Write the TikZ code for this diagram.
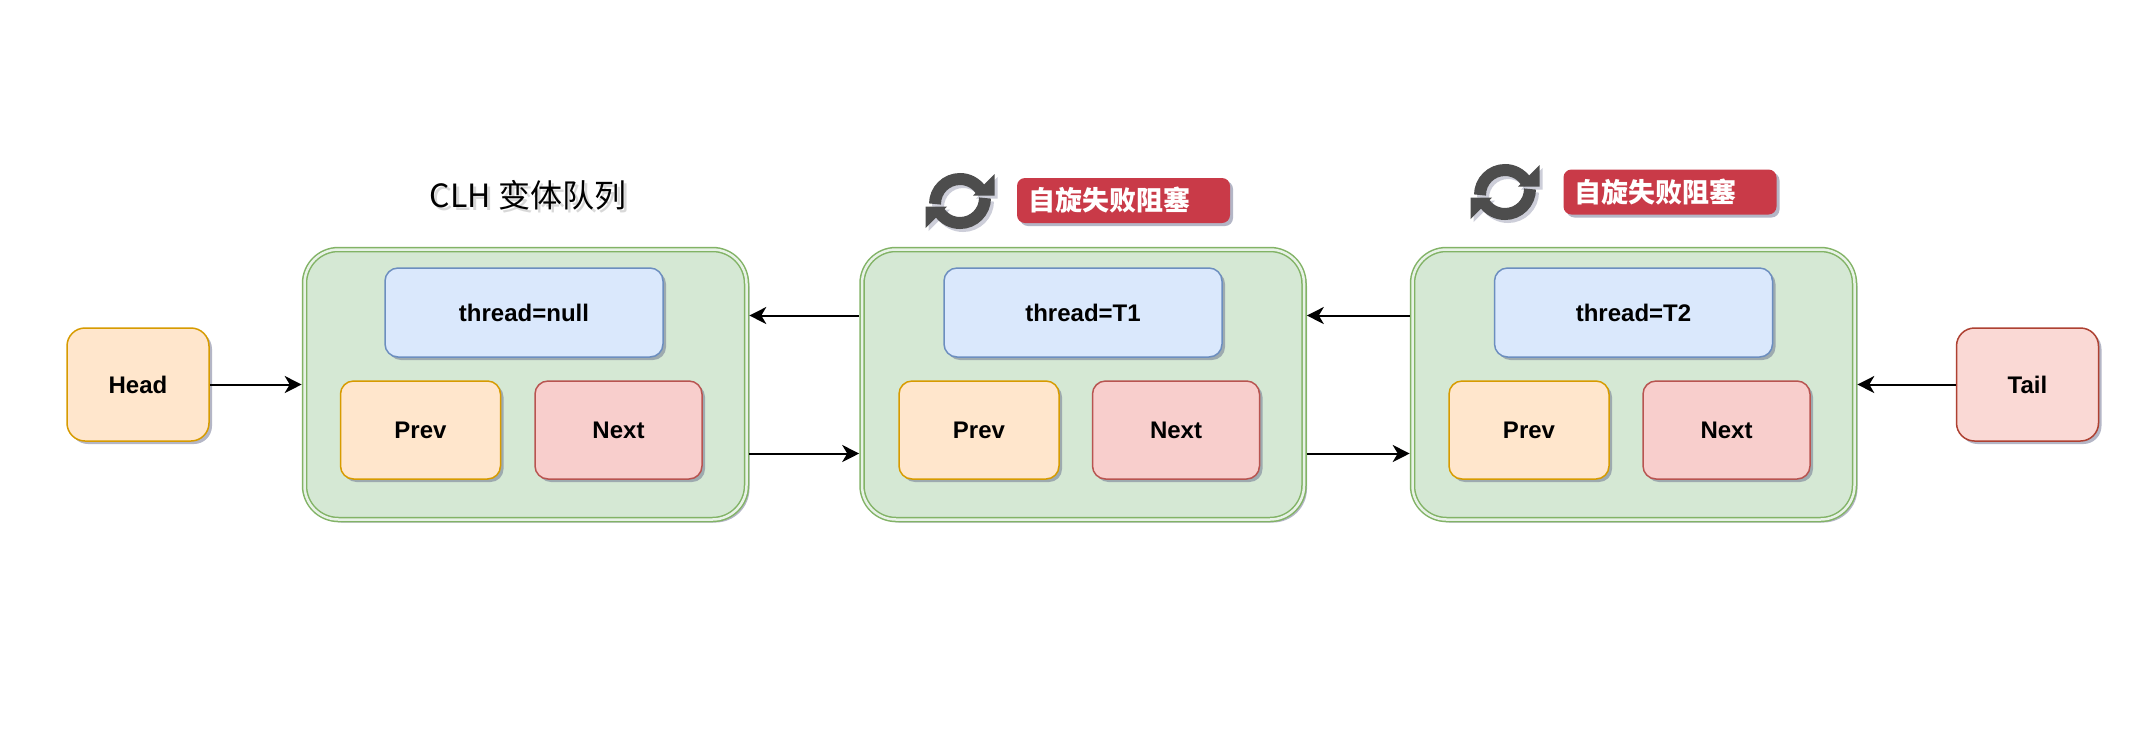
\documentclass[tikz,border=0pt]{standalone}
\usepackage{fontspec}
\setmainfont{Liberation Sans}
\newfontfamily\cjk{Noto Sans CJK SC}
\usetikzlibrary{shadows,arrows.meta}
\definecolor{grpfill}{HTML}{D5E8D4}
\definecolor{grpline}{HTML}{82B366}
\definecolor{blufill}{HTML}{DAE8FC}
\definecolor{bluline}{HTML}{6C8EBF}
\definecolor{orfill}{HTML}{FFE6CC}
\definecolor{orline}{HTML}{D79B00}
\definecolor{rdfill}{HTML}{F8CECC}
\definecolor{rdline}{HTML}{B85450}
\definecolor{tlfill}{HTML}{FAD9D5}
\definecolor{tlline}{HTML}{AE4132}
\definecolor{lblred}{RGB}{201,58,72}
\definecolor{icongray}{RGB}{77,77,77}
\definecolor{shadowc}{RGB}{90,95,130}
\tikzset{
  shad/.style={drop shadow={shadow xshift=1.5pt,shadow yshift=-1.5pt,fill=shadowc,opacity=0.45}},
  grp/.style={shad, rounded corners=17pt, draw=grpline, line width=0.75pt,
    double=grpfill!55!white, double distance=1.25pt, fill=grpfill,
    minimum width=221pt, minimum height=135pt, inner sep=0pt, outer sep=1.4pt},
  txt/.style={font=\bfseries\fontsize{12}{14}\selectfont, text=black},
  inbox/.style={shad, txt, rounded corners=6.5pt, line width=0.75pt, inner sep=0pt},
  thr/.style={inbox, draw=bluline, fill=blufill, minimum width=139pt, minimum height=44.5pt},
  prv/.style={inbox, draw=orline, fill=orfill, minimum width=80pt, minimum height=49pt},
  nxt/.style={inbox, draw=rdline, fill=rdfill, minimum width=83.5pt, minimum height=49pt},
  endbox/.style={shad, txt, rounded corners=9pt, line width=0.75pt, inner sep=0pt,
    minimum width=71pt, minimum height=56.5pt},
  redlabel/.style={shad, fill=lblred, rounded corners=4pt, inner xsep=5.5pt, inner ysep=0pt,
    text width=95.5pt, align=left, minimum height=22.5pt, text=white,
    font=\cjk\bfseries\fontsize{13.5}{15}\selectfont},
  arr/.style={line width=1pt, -{Stealth[length=8.5pt,width=8.5pt,inset=2.5pt]}},
}
\newcommand\RefreshHalf{%
  \draw[line width=6pt] (-25,-3) arc[start angle=180,end angle=35,radius=25];
  \fill (34.5,27) -- (34.5,5.5) -- (13,5.5) -- cycle;}
\newcommand\RefreshIcon{%
  \RefreshHalf
  \begin{scope}[rotate=180]\RefreshHalf\end{scope}}
\begin{document}
\begin{tikzpicture}[x=0.5pt,y=-0.5pt]
\useasboundingbox[fill=white] (0,0) rectangle (2148,730);

% title
\node[font=\cjk\fontsize{16}{18}\selectfont, text=black!30, opacity=0.5] at (531,198) {CLH 变体队列};
\node[font=\cjk\fontsize{16}{18}\selectfont] (title) at (528,195) {CLH 变体队列};

% end boxes
\node[endbox, draw=orline, fill=orfill] (head) at (138,384.5) {Head};
\node[endbox, draw=tlline, fill=tlfill] (tail) at (2027.5,384.5) {Tail};

% groups
\node[grp] (g1) at (525.5,384.5) {};
\node[grp] (g2) at (1083,384.5) {};
\node[grp] (g3) at (1633.5,384.5) {};

\node[thr] (t1) at (524,312.5) {thread=null};
\node[prv] (p1) at (420.5,430) {Prev};
\node[nxt] (n1) at (618.5,430) {Next};

\node[thr] (t2) at (1083,312.5) {thread=T1};
\node[prv] (p2) at (979,430) {Prev};
\node[nxt] (n2) at (1176,430) {Next};

\node[thr] (t3) at (1633.5,312.5) {thread=T2};
\node[prv] (p3) at (1529,430) {Prev};
\node[nxt] (n3) at (1726.5,430) {Next};

% icons
\begin{scope}[shift={(963,204)}, yscale=-1, color=shadowc, opacity=0.3]\RefreshIcon\end{scope}
\begin{scope}[shift={(960,201)}, yscale=-1, color=icongray]\RefreshIcon\end{scope}
\begin{scope}[shift={(1508,195)}, yscale=-1, color=shadowc, opacity=0.3]\RefreshIcon\end{scope}
\begin{scope}[shift={(1505,192)}, yscale=-1, color=icongray]\RefreshIcon\end{scope}

% labels
\node[redlabel] (l2) at (1123.5,200.5) {自旋失败阻塞};
\node[redlabel] (l3) at (1670,192) {自旋失败阻塞};

% connectors
\draw[arr] (head) -- (g1);
\draw[arr] (tail) -- (g3);
\draw[arr] ([yshift=34.5pt]g2.west) -- ([yshift=34.5pt]g1.east);
\draw[arr] ([yshift=-34.5pt]g1.east) -- ([yshift=-34.5pt]g2.west);
\draw[arr] ([yshift=34.5pt]g3.west) -- ([yshift=34.5pt]g2.east);
\draw[arr] ([yshift=-34.5pt]g2.east) -- ([yshift=-34.5pt]g3.west);
\end{tikzpicture}
\end{document}
